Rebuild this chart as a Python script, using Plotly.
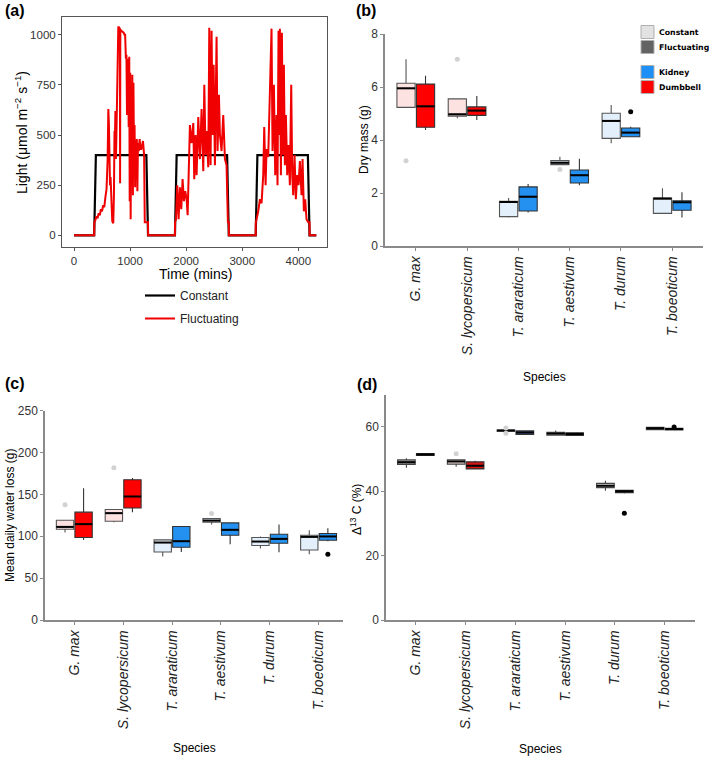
import plotly.graph_objects as go

W, H = 709, 759
def px(x):
    return x / W
def py(y):
    return 1 - y / H

FONT = "Liberation Sans, Arial, sans-serif"

# ---------------- Panel (a): light regimes ----------------
time_const = [0, 360, 390, 1290, 1320, 1800, 1830, 2730, 2760, 3240, 3270, 4170, 4200, 4320]
light_const = [0, 0, 400, 400, 0, 0, 400, 400, 0, 0, 400, 400, 0, 0]

time_fluct = [0, 360, 362, 380, 400, 420, 440, 460, 480, 500, 520, 540, 560, 580, 600, 612, 622, 632,
              642, 652, 662, 672, 682, 700, 712, 722, 730, 738, 748, 760, 775, 790, 805, 818, 822, 826,
              845, 865, 885, 900, 912, 925, 935, 945, 955, 965, 975, 985, 993, 1002, 1010, 1020, 1030,
              1040, 1050, 1060, 1070, 1080, 1090, 1100, 1110, 1120, 1130, 1140, 1155, 1170, 1185, 1200,
              1230, 1250, 1262, 1320, 1321,
              1800, 1801, 1818, 1841, 1865, 1889, 1913, 1936, 1960, 1984, 2008, 2026, 2049, 2067, 2097,
              2127, 2144, 2168, 2186, 2216, 2245, 2275, 2305, 2323, 2346, 2364, 2394, 2412, 2435, 2453,
              2471, 2489, 2513, 2542, 2560, 2584, 2602, 2631, 2661, 2691, 2720, 2744, 2760, 2761,
              3240, 3241, 3255, 3285, 3315, 3344, 3374, 3392, 3416, 3433, 3463, 3481, 3505, 3522, 3540,
              3564, 3588, 3612, 3629, 3647, 3659, 3671, 3689, 3707, 3724, 3742, 3760, 3778, 3802, 3825,
              3849, 3873, 3891, 3909, 3932, 3956, 3980, 4004, 4027, 4057, 4075, 4099, 4122, 4146, 4176,
              4200, 4201, 4320]
light_fluct = [0, 0, 65, 75, 95, 85, 110, 100, 130, 120, 150, 140, 190, 230, 380, 630, 560, 300,
               250, 290, 200, 120, 70, 60, 200, 520, 480, 620, 380, 560, 900, 1040, 1035, 1030, 260, 1025,
               1020, 1015, 1010, 1000, 1000, 880, 900, 600, 880, 850, 540, 890, 170, 810, 80, 670, 300,
               800, 200, 760, 380, 550, 240, 470, 300, 480, 220, 460, 420, 480, 430, 430,
               470, 400, 65, 65, 0,
               0, 65, 80, 250, 80, 240, 130, 280, 170, 220, 180, 100, 300, 550, 460,
               560, 280, 500, 300, 590, 380, 630, 320, 750, 400, 520, 340, 1035, 350, 1020,
               500, 850, 350, 990, 420, 700, 500, 420, 600, 380, 350, 65, 65, 0,
               0, 65, 80, 120, 180, 160, 300, 540, 250, 430, 390, 600, 830, 1030, 420,
               750, 300, 600, 250, 1020, 500, 1030, 300, 1010, 400, 850, 350, 600, 300, 450,
               250, 750, 300, 200, 400, 180, 300, 250, 370, 200, 380, 120, 180, 80, 65,
               65, 0, 0]

# ---------------- Panels (b)-(d): box statistics ----------------
species = ["G. max", "S. lycopersicum", "T. araraticum", "T. aestivum", "T. durum", "T. boeoticum"]

# (b) Dry mass (g)
dm_const_lf = [5.23, 4.82, 1.08, 3.05, 3.88, 1.23]
dm_const_q1 = [5.23, 4.90, 1.11, 3.07, 4.06, 1.23]
dm_const_med = [5.95, 4.97, 1.66, 3.14, 4.72, 1.79]
dm_const_q3 = [6.14, 5.55, 1.69, 3.22, 5.01, 1.81]
dm_const_uf = [7.05, 5.55, 1.81, 3.37, 5.32, 2.18]
dm_const_out = [[3.22], [7.05], [], [2.89], [], []]
dm_fluct_lf = [4.38, 4.75, 1.26, 2.29, 4.10, 1.08]
dm_fluct_q1 = [4.48, 4.93, 1.32, 2.38, 4.12, 1.35]
dm_fluct_med = [5.27, 5.11, 1.86, 2.67, 4.28, 1.65]
dm_fluct_q3 = [6.11, 5.25, 2.23, 2.87, 4.45, 1.71]
dm_fluct_uf = [6.42, 5.66, 2.34, 3.29, 4.50, 2.03]
dm_fluct_out = [[], [], [], [], [5.07], []]

# (c) Mean daily water loss (g)
wl_const_lf = [104.4, 116.9, 75.7, 114.0, 85.3, 78.6]
wl_const_q1 = [108.4, 118.0, 81.3, 116.9, 88.9, 83.7]
wl_const_med = [111.2, 127.6, 92.5, 118.8, 93.7, 99.3]
wl_const_q3 = [119.2, 132.0, 95.7, 121.2, 98.5, 101.3]
wl_const_uf = [119.2, 132.0, 96.5, 121.2, 99.8, 107.3]
wl_const_out = [[137.6], [181.8], [], [127.2], [], []]
wl_fluct_lf = [95.7, 128.8, 81.3, 90.6, 81.0, 94.0]
wl_fluct_q1 = [98.5, 133.7, 86.9, 101.3, 91.7, 95.3]
wl_fluct_med = [114.5, 147.6, 94.1, 107.7, 96.9, 99.8]
wl_fluct_q3 = [128.8, 167.5, 111.6, 116.0, 102.5, 103.3]
wl_fluct_uf = [157.5, 169.5, 112.4, 116.0, 114.0, 109.7]
wl_fluct_out = [[], [], [], [], [], [78.6]]

# (d) Delta 13C (%)
dc_const_lf = [47.3, 47.6, 58.5, 57.3, 40.1, 59.0]
dc_const_q1 = [48.3, 48.4, 58.6, 57.4, 41.1, 59.1]
dc_const_med = [49.0, 49.2, 58.8, 57.9, 41.7, 59.5]
dc_const_q3 = [49.7, 49.7, 59.0, 58.3, 42.4, 59.8]
dc_const_uf = [50.2, 49.7, 59.1, 58.8, 43.2, 59.9]
dc_const_out = [[], [51.6], [59.6, 58.0], [], [], []]
dc_fluct_lf = [51.0, 46.9, 57.4, 57.2, 39.3, 58.9]
dc_fluct_q1 = [51.1, 46.9, 57.6, 57.3, 39.5, 59.0]
dc_fluct_med = [51.4, 47.9, 58.2, 57.7, 40.0, 59.3]
dc_fluct_q3 = [51.7, 49.1, 58.7, 58.1, 40.3, 59.5]
dc_fluct_uf = [51.8, 49.4, 58.9, 58.2, 40.4, 59.7]
dc_fluct_out = [[], [], [], [], [33.1], [59.9]]

# colours
RED_LIGHT, RED = "#fde2e2", "#ff0000"
BLUE_LIGHT, BLUE = "#e3effb", "#2490f0"
const_fill_bc = [RED_LIGHT, RED_LIGHT, BLUE_LIGHT, BLUE_LIGHT, BLUE_LIGHT, BLUE_LIGHT]
fluct_fill_bc = [RED, RED, BLUE, BLUE, BLUE, BLUE]
const_fill_d = ["#a9a9a9", "#fbe6e6", "#2a2a2a", "#a0a0a0", "#dcdcdc", "#a6a6a6"]
fluct_fill_d = ["#151515", "#d41515", "#3d5f8e", "#26344a", "#151515", "#1c1c1c"]

BOXW = 0.355
DODGE = 0.19

fig = go.Figure()

# Panel (a) lines
fig.add_trace(go.Scatter(x=time_const, y=light_const, mode="lines", name="Constant",
                         line=dict(color="black", width=2.2), legendgroup="c",
                         xaxis="x", yaxis="y", hoverinfo="skip"))
fig.add_trace(go.Scatter(x=time_fluct, y=light_fluct, mode="lines", name="Fluctuating",
                         line=dict(color="#f00000", width=2), legendgroup="f",
                         xaxis="x", yaxis="y", hoverinfo="skip"))


def add_panel(xa, ya, c_stats, f_stats, c_fill, f_fill, c_out, f_out, c_line, f_line):
    for stats, fills, outs, shift, lc, ocol in (
            (c_stats, c_fill, c_out, -DODGE, c_line, "#d2d2d2"),
            (f_stats, f_fill, f_out, DODGE, f_line, "black")):
        lf, q1, med, q3, uf = stats
        mx, my = [], []
        ox, oy = [], []
        for i in range(len(species)):
            pos = i + shift
            fig.add_trace(go.Box(x=[pos], q1=[q1[i]], median=[med[i]], q3=[q3[i]],
                                 lowerfence=[lf[i]], upperfence=[uf[i]], width=BOXW,
                                 fillcolor=fills[i], line=dict(color=lc, width=1.1),
                                 whiskerwidth=0, boxpoints=False, showlegend=False,
                                 hoverinfo="skip", xaxis=xa, yaxis=ya))
            mx += [pos - BOXW / 2, pos + BOXW / 2, None]
            my += [med[i], med[i], None]
            for v in outs[i]:
                ox.append(pos)
                oy.append(v)
        fig.add_trace(go.Scatter(x=mx, y=my, mode="lines", line=dict(color="black", width=2),
                                 showlegend=False, hoverinfo="skip", xaxis=xa, yaxis=ya))
        if ox:
            fig.add_trace(go.Scatter(x=ox, y=oy, mode="markers",
                                     marker=dict(color=ocol, size=5), showlegend=False,
                                     hoverinfo="skip", xaxis=xa, yaxis=ya))


add_panel("x2", "y2",
          (dm_const_lf, dm_const_q1, dm_const_med, dm_const_q3, dm_const_uf),
          (dm_fluct_lf, dm_fluct_q1, dm_fluct_med, dm_fluct_q3, dm_fluct_uf),
          const_fill_bc, fluct_fill_bc, dm_const_out, dm_fluct_out, "#555555", "#333333")
add_panel("x3", "y3",
          (wl_const_lf, wl_const_q1, wl_const_med, wl_const_q3, wl_const_uf),
          (wl_fluct_lf, wl_fluct_q1, wl_fluct_med, wl_fluct_q3, wl_fluct_uf),
          const_fill_bc, fluct_fill_bc, wl_const_out, wl_fluct_out, "#555555", "#333333")
add_panel("x4", "y4",
          (dc_const_lf, dc_const_q1, dc_const_med, dc_const_q3, dc_const_uf),
          (dc_fluct_lf, dc_fluct_q1, dc_fluct_med, dc_fluct_q3, dc_fluct_uf),
          const_fill_d, fluct_fill_d, dc_const_out, dc_fluct_out, "#444444", "#333333")

tick_text = ["<i>%s</i>" % s for s in species]

ax_style = dict(showline=True, linecolor="#8a8a8a", linewidth=1.5, ticks="outside", ticklen=3,
                tickcolor="#8a8a8a", showgrid=False, zeroline=False, automargin=False,
                tickfont=dict(size=12, color="#333333", family=FONT))
xcat = dict(ax_style, tickmode="array", tickvals=list(range(len(species))), ticktext=tick_text,
            tickangle=-90, tickfont=dict(size=14, color="#222222", family=FONT))

frame = dict(showline=True, mirror=True, linecolor="#555555", linewidth=1, ticks="outside",
             ticklen=3, tickcolor="#555555", showgrid=False, zeroline=False, automargin=False,
             tickfont=dict(size=11.5, color="#333333", family=FONT))

fig.update_layout(
    width=W, height=H, margin=dict(l=0, r=0, t=0, b=0, autoexpand=False),
    paper_bgcolor="white", plot_bgcolor="white",
    font=dict(family=FONT, color="black"),
    xaxis=dict(frame, domain=[px(62), px(327)], range=[-214, 4511],
               tickvals=[0, 1000, 2000, 3000, 4000], anchor="y"),
    yaxis=dict(frame, domain=[py(247), py(17)], range=[-58, 1088],
               tickvals=[0, 250, 500, 750, 1000], anchor="x"),
    xaxis2=dict(xcat, domain=[px(385), px(703)], range=[-0.6, 5.6], anchor="y2"),
    yaxis2=dict(ax_style, domain=[py(246), py(34)], range=[0, 8], tickvals=[0, 2, 4, 6, 8], anchor="x2"),
    xaxis3=dict(xcat, domain=[px(45), px(343)], range=[-0.6, 5.5], anchor="y3"),
    yaxis3=dict(ax_style, domain=[py(620), py(410.7)], range=[0, 250],
                tickvals=[0, 50, 100, 150, 200, 250], anchor="x3"),
    xaxis4=dict(xcat, domain=[px(386), px(694.5)], range=[-0.6, 5.6], anchor="y4"),
    yaxis4=dict(ax_style, domain=[py(620), py(394.5)], range=[0, 70],
                tickvals=[0, 20, 40, 60], anchor="x4"),
    showlegend=True,
    legend=dict(x=px(140), y=py(281), xanchor="left", yanchor="top", orientation="v",
                tracegroupgap=4, font=dict(size=12, color="#222222", family=FONT),
                bgcolor="rgba(0,0,0,0)"),
)

ann = []
def text(x, y, s, size=12, angle=0, bold=False, xanchor="center", color="black", family=FONT):
    ann.append(dict(x=px(x), y=py(y), xref="paper", yref="paper", text=("<b>%s</b>" % s) if bold else s,
                    showarrow=False, xanchor=xanchor, yanchor="middle", textangle=angle,
                    font=dict(size=size, color=color, family=family)))

# panel labels
text(3, 11, "(a)", 16, bold=True, xanchor="left")
text(354, 11, "(b)", 16, bold=True, xanchor="left")
text(3, 383, "(c)", 16, bold=True, xanchor="left")
text(355, 384, "(d)", 16, bold=True, xanchor="left")
# axis titles
text(21, 133, "Light (μmol m<sup>−2</sup> s<sup>−1</sup>)", 14, angle=-90)
text(195, 274, "Time (mins)", 14)
text(364, 140, "Dry mass (g)", 12, angle=-90)
text(544, 377, "Species", 12)
text(10, 516, "Mean daily water loss (g)", 12, angle=-90)
text(194, 748, "Species", 12)
text(356, 510, "Δ<sup>13</sup> C (%)", 12, angle=-90)
text(540, 749, "Species", 12)

# legend for panel (b)
leg_items = [("Constant", "#e2e2e2", 32), ("Fluctuating", "#636363", 47),
             ("Kidney", "#1e8ff5", 72), ("Dumbbell", "#ff0000", 87)]
shapes = []
for label, col, yc in leg_items:
    shapes.append(dict(type="rect", xref="paper", yref="paper", x0=px(641), x1=px(654),
                       y0=py(yc + 6.5), y1=py(yc - 6.5), fillcolor=col,
                       line=dict(color="#b0b0b0", width=1)))
    text(657, yc, label, 7.8, bold=True, xanchor="left", family="DejaVu Sans, Verdana, sans-serif")

fig.update_layout(annotations=ann, shapes=shapes)

fig.write_html("out.html")
